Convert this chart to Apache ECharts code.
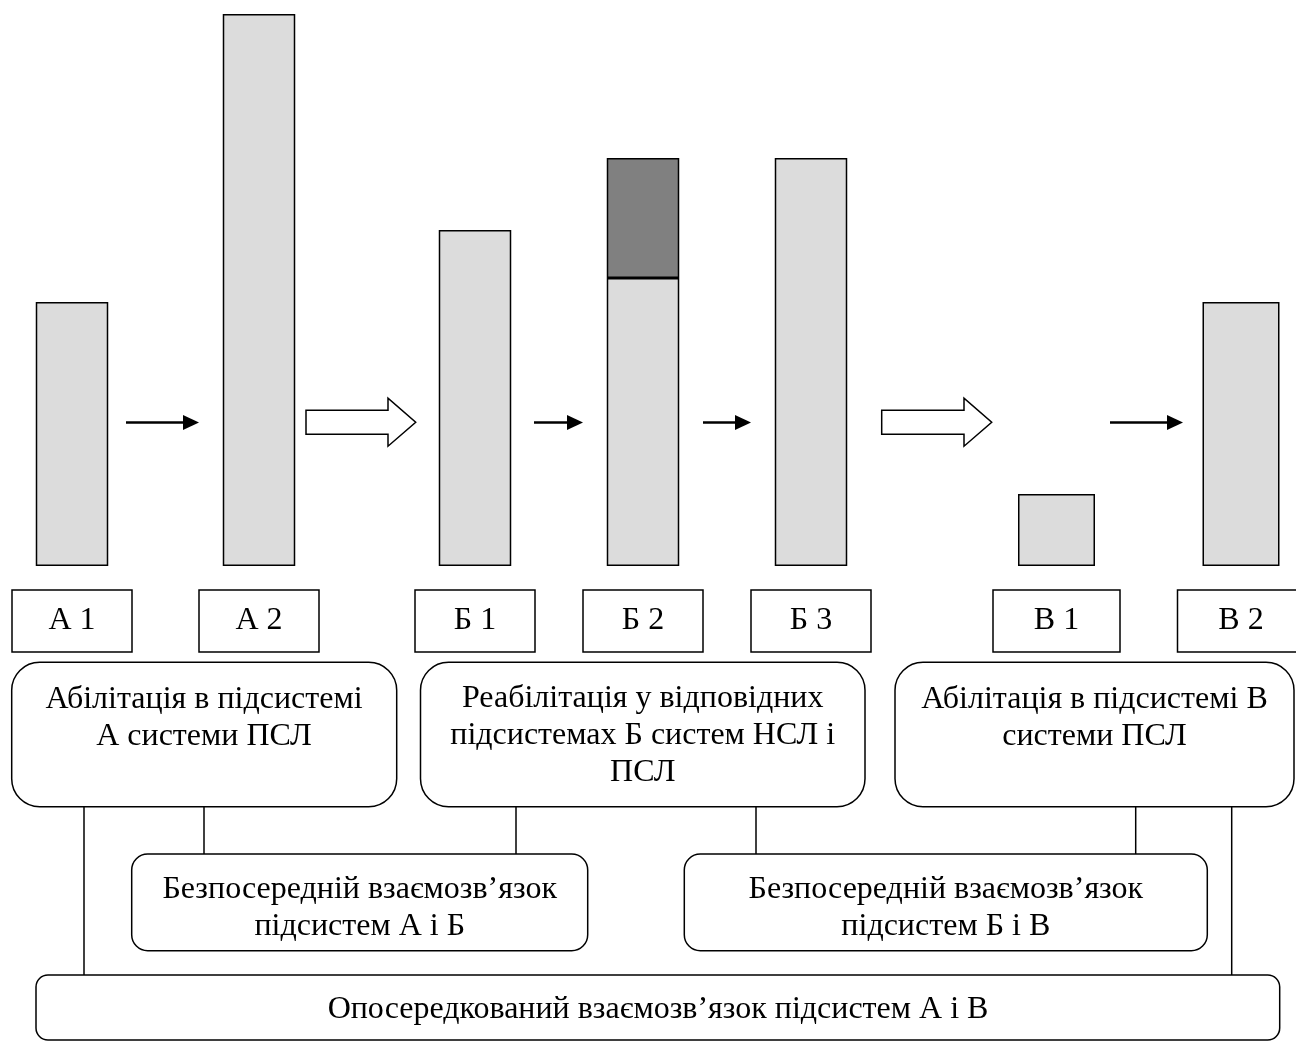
<!DOCTYPE html>
<html>
<head>
<meta charset="utf-8">
<script src="https://cdn.jsdelivr.net/npm/echarts@6/dist/echarts.min.js"></script>
<style>html,body{margin:0;padding:0;background:#fff}#c{width:1296px;height:1043px}</style>
</head>
<body>
<div id="c"></div>
<script>
// ---- data ----
const catsA = ['А 1', 'А 2'];
const valsA = [11, 23];
const catsB = ['Б 1', 'Б 2', 'Б 3'];
const valsB = [14, 12, 17];
const valsBTop = ['-', 5, '-'];
const catsV = ['В 1', 'В 2'];
const valsV = [3, 11];
const boxTexts = [
  'Абілітація в підсистемі\nА системи ПСЛ',
  'Реабілітація у відповідних\nпідсистемах Б систем НСЛ і\nПСЛ',
  'Абілітація в підсистемі В\nсистеми ПСЛ'
];
const linkTexts = [
  'Безпосередній взаємозв’язок\nпідсистем А і Б',
  'Безпосередній взаємозв’язок\nпідсистем Б і В'
];
const bottomText = 'Опосередкований взаємозв’язок підсистем А і В';

// ---- layout / style ----
const FONT = '"Liberation Serif", "Times New Roman", serif';
const FS = 32;
const LIGHT = '#dcdcdc', DARK = '#808080';
const W = 1296, H = 1043;
const barBottom = 566, yMax = 23, gridTop = 14;

function xAxisFor(cats, gi, boxW) {
  return {
    type: 'category', gridIndex: gi, data: cats, boundaryGap: false,
    axisLine: {show: false}, axisTick: {show: false}, splitLine: {show: false},
    axisLabel: {
      interval: 0, margin: 24, color: '#000', fontFamily: FONT, fontSize: FS,
      width: boxW, height: 62, lineHeight: 62, align: 'center', overflow: 'none',
      borderColor: '#000', borderWidth: 1.5, padding: 0,
      hideOverlap: false, showMinLabel: true, showMaxLabel: true
    }
  };
}
function yAxisFor(gi) {
  return {type: 'value', gridIndex: gi, min: 0, max: yMax, show: false, splitLine: {show: false}};
}
const gridCommon = {top: gridTop, bottom: H - barBottom, containLabel: false, outerBoundsMode: 'none'};
const barStyle = c => ({color: c, borderColor: '#000', borderWidth: 1.5});

function roundBox(x, y, w, h, r) {
  return {type: 'rect', shape: {x, y, width: w, height: h, r}, style: {fill: '#fff', stroke: '#000', lineWidth: 1.5}, z: 1};
}
function txt(x, y, t, lh) {
  return {type: 'text', x, y, z: 3, style: {text: t, fontFamily: FONT, fontSize: FS, fill: '#000',
    align: 'center', verticalAlign: 'middle', textAlign: 'center', textVerticalAlign: 'middle', lineHeight: lh || 37}};
}
function vline(x, y1, y2) {
  return {type: 'line', shape: {x1: x, y1, x2: x, y2}, style: {stroke: '#000', lineWidth: 1.5}, z: 0};
}
function smallArrow(x1, x2, y) {
  return [
    {type: 'line', shape: {x1, y1: y, x2: x2 - 10, y2: y}, style: {stroke: '#000', lineWidth: 2.5}},
    {type: 'polygon', shape: {points: [[x2 - 16, y - 7.5], [x2, y], [x2 - 16, y + 7.5]]}, style: {fill: '#000'}}
  ];
}
function hollowArrow(x1, xh, x2, y) {
  return {type: 'polygon', shape: {points: [[x1, y - 12], [xh, y - 12], [xh, y - 24], [x2, y], [xh, y + 24], [xh, y + 12], [x1, y + 12]]},
    style: {fill: '#fff', stroke: '#000', lineWidth: 1.5}};
}

const graphic = [].concat(
  smallArrow(126, 199, 422.5),
  smallArrow(534, 583, 422.5),
  smallArrow(703, 751, 422.5),
  smallArrow(1110, 1183, 422.5),
  [hollowArrow(306, 388, 415.7, 422.2), hollowArrow(881.7, 964, 991.7, 422.2)],
  [
    vline(84, 806, 975), vline(204, 806, 854), vline(516, 806, 854),
    vline(756, 806, 854), vline(1135.7, 806, 854), vline(1231.7, 806, 975),
    roundBox(11.7, 662.3, 385, 144.4, 28),
    roundBox(420.5, 662.3, 444.5, 144.4, 28),
    roundBox(895, 662.3, 399, 144.4, 28),
    roundBox(131.7, 854, 456, 96.7, 16),
    roundBox(684.3, 854, 523, 96.7, 16),
    roundBox(36, 975, 1243.7, 65, 12),
    txt(204, 718, boxTexts[0]),
    txt(642.7, 735.7, boxTexts[1]),
    txt(1094.5, 718, boxTexts[2]),
    txt(359.7, 908.3, linkTexts[0]),
    txt(945.8, 908.3, linkTexts[1]),
    txt(658, 1010, bottomText)
  ]
);

const option = {
  backgroundColor: '#fff',
  animation: false,
  grid: [
    Object.assign({left: 72, width: 187}, gridCommon),
    Object.assign({left: 475, width: 336}, gridCommon),
    Object.assign({left: 1056.5, width: 184.5}, gridCommon)
  ],
  xAxis: [xAxisFor(catsA, 0, 120), xAxisFor(catsB, 1, 120), xAxisFor(catsV, 2, 127)],
  yAxis: [yAxisFor(0), yAxisFor(1), yAxisFor(2)],
  series: [
    {type: 'bar', xAxisIndex: 0, yAxisIndex: 0, data: valsA, barWidth: 72.5, clip: false, itemStyle: barStyle(LIGHT)},
    {type: 'bar', xAxisIndex: 1, yAxisIndex: 1, data: valsB, stack: 'b', barWidth: 72.5, clip: false, itemStyle: barStyle(LIGHT)},
    {type: 'bar', xAxisIndex: 1, yAxisIndex: 1, data: valsBTop, stack: 'b', barWidth: 72.5, clip: false, itemStyle: barStyle(DARK)},
    {type: 'bar', xAxisIndex: 2, yAxisIndex: 2, data: valsV, barWidth: 77, clip: false, itemStyle: barStyle(LIGHT)}
  ],
  graphic: graphic
};
const chart = echarts.init(document.getElementById('c'));
chart.setOption(option);
</script>
</body>
</html>
